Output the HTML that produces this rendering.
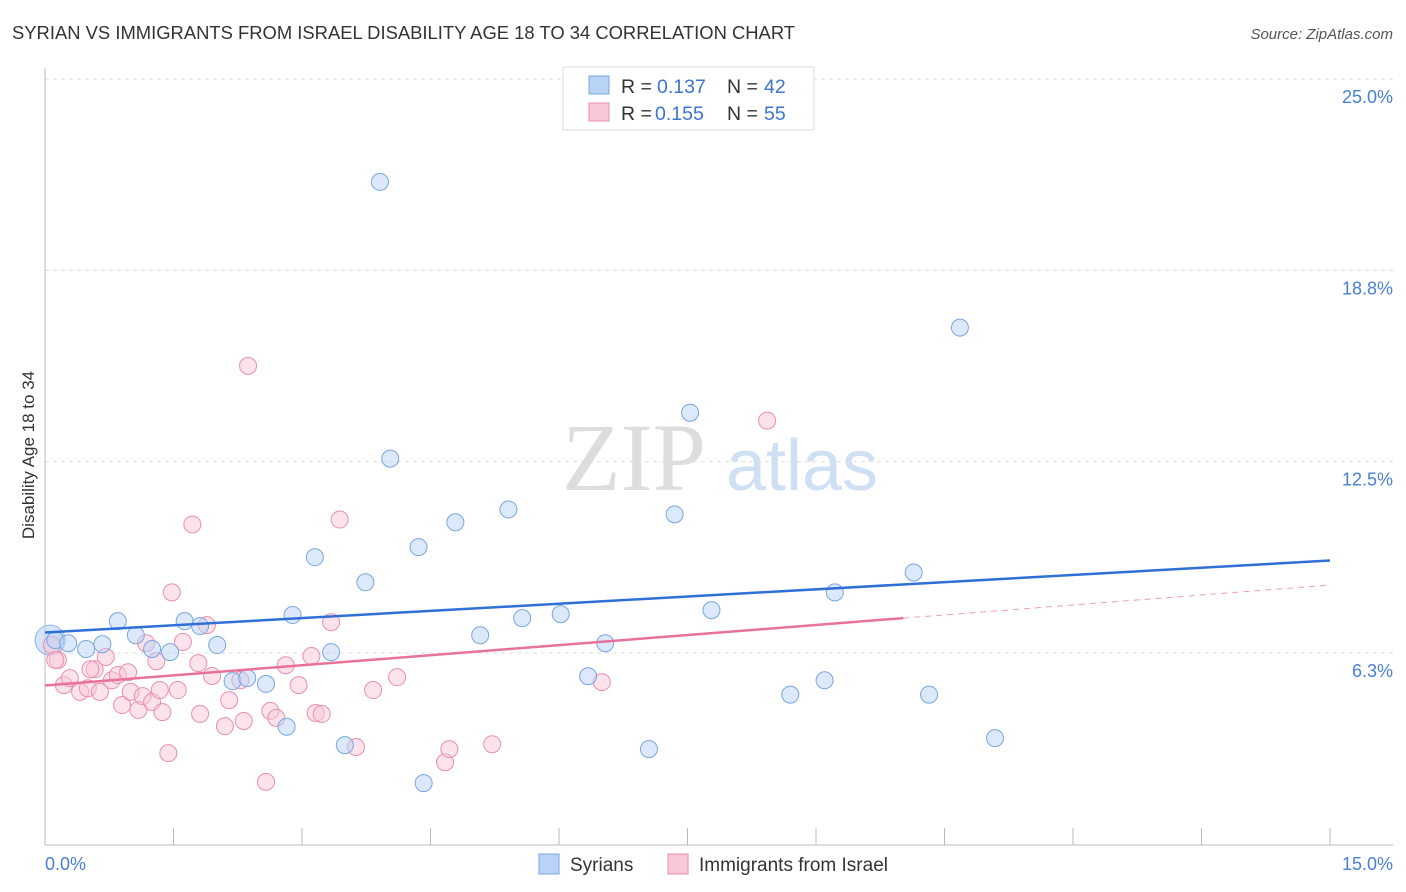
<!DOCTYPE html>
<html><head><meta charset="utf-8"><style>
body{margin:0;background:#fff;font-family:"Liberation Sans",sans-serif;}
svg{display:block}
</style></head><body>
<svg id="chart" width="1406" height="892">
<text x="12" y="39" font-size="18.4" fill="#333" textLength="783">SYRIAN VS IMMIGRANTS FROM ISRAEL DISABILITY AGE 18 TO 34 CORRELATION CHART</text>
<text x="1393" y="39" font-size="15" fill="#555" font-style="italic" text-anchor="end">Source: ZipAtlas.com</text>
<text x="634" y="490" font-size="96" fill="#ddd" font-family="Liberation Serif" text-anchor="middle">ZIP</text>
<text x="802" y="490" font-size="72" fill="#cfe0f5" text-anchor="middle">atlas</text>
<g id="grid"></g><g id="marks"></g>
<text transform="translate(34,455) rotate(-90)" font-size="17" fill="#333" text-anchor="middle">Disability Age 18 to 34</text>
<text x="45" y="870" font-size="18" fill="#4a7fd6">0.0%</text>
<text x="1393" y="870" font-size="18" fill="#4a7fd6" text-anchor="end">15.0%</text>
<g>
<rect x="563" y="67" width="251" height="63" fill="#fff" stroke="#ddd"/>
<rect x="589" y="76" width="20" height="18" fill="#b8d3f5" stroke="#7aa6e0"/>
<text x="621" y="93" font-size="19.5" fill="#333">R =</text>
<text x="657" y="93" font-size="19.5" fill="#3d74d1">0.137</text>
<text x="727" y="93" font-size="19.5" fill="#333">N =</text>
<text x="764" y="93" font-size="19.5" fill="#3d74d1">42</text>
<rect x="589" y="103" width="20" height="18" fill="#f9c8d7" stroke="#ea8fae"/>
<text x="621" y="120" font-size="19.5" fill="#333">R =</text>
<text x="655" y="120" font-size="19.5" fill="#3d74d1">0.155</text>
<text x="727" y="120" font-size="19.5" fill="#333">N =</text>
<text x="764" y="120" font-size="19.5" fill="#3d74d1">55</text>
</g>
<g><rect x="539" y="854" width="20" height="20" fill="#b8d3f5" stroke="#7aa6e0"/><text x="570" y="871" font-size="19" fill="#333">Syrians</text></g>
<g><rect x="668" y="854" width="20" height="20" fill="#f9c8d7" stroke="#ea8fae"/><text x="699" y="871" font-size="19" fill="#333">Immigrants from Israel</text></g>
</svg>
<script>
const yTicks=[6.25,12.5,18.75,25.0];
const yTickLabels=["6.3%","12.5%","18.8%","25.0%"];
const xTicks=[0,1.5,3,4.5,6,7.5,9,10.5,12,13.5,15];
const syrX=[0.12,0.27,0.48,0.67,0.85,1.06,1.25,1.46,1.63,1.81,2.01,2.19,2.36,2.58,2.82,2.89,3.15,3.34,3.5,3.74,3.91,4.03,4.36,4.42,4.79,5.08,5.41,5.57,6.02,6.34,6.54,7.05,7.35,7.53,7.78,8.7,9.1,9.22,10.14,10.32,10.68,11.09];
const syrY=[6.67,6.57,6.38,6.54,7.29,6.83,6.38,6.28,7.29,7.13,6.51,5.33,5.43,5.24,3.84,7.49,9.38,6.28,3.24,8.56,21.64,12.6,9.71,2.0,10.52,6.83,10.94,7.39,7.52,5.49,6.57,3.11,10.78,14.1,7.65,4.89,5.36,8.23,8.88,4.89,16.88,3.47];
const isrX=[0.08,0.15,0.22,0.29,0.41,0.5,0.58,0.64,0.71,0.78,0.85,0.9,0.97,1.0,1.09,1.14,1.18,1.25,1.3,1.37,1.44,1.48,1.55,1.61,1.72,1.79,1.81,1.89,1.95,2.1,2.15,2.32,2.37,2.58,2.63,2.7,2.81,2.96,3.11,3.16,3.23,3.34,3.44,3.63,3.83,4.11,4.67,4.72,5.22,6.5,8.43,0.12,0.53,1.34,2.28];
const isrY=[6.51,6.02,5.2,5.43,4.98,5.1,5.72,4.98,6.12,5.36,5.53,4.55,5.62,4.98,4.39,4.84,6.57,4.65,5.98,4.32,2.98,8.23,5.04,6.61,10.45,5.92,4.26,7.16,5.5,3.86,4.71,4.03,15.63,2.04,4.36,4.13,5.85,5.2,6.15,4.29,4.26,7.26,10.61,3.18,5.04,5.46,2.68,3.11,3.27,5.3,13.84,6.02,5.72,5.04,5.36];
const syrLine=[6.92,9.27];
const isrLine=[5.19,7.39,8.47];
const X0=45,X1=1330,Y0=653,pxPer=30.61;
const xs=v=>X0+v/15*(X1-X0), ys=v=>Y0-(v-6.25)*pxPer;
const NS="http://www.w3.org/2000/svg";
function mk(t,a,p){const e=document.createElementNS(NS,t);for(const k in a)e.setAttribute(k,a[k]);p.appendChild(e);return e;}
const grid=document.getElementById('grid'),marks=document.getElementById('marks');
yTicks.forEach((v,i)=>{
 const l=mk('line',{x1:45,x2:1393,y1:ys(v),y2:ys(v),stroke:'#ddd','stroke-dasharray':'4,4'},grid);
 
 
 const t=mk('text',{x:1393,y:ys(v)+24,'font-size':18,fill:'#4a7fd6','text-anchor':'end'},grid);t.textContent=yTickLabels[i];
 
 
});
const ax=mk('line',{x1:45,x2:1393,y1:845,y2:845,stroke:'#bbb'},grid);


const ay=mk('line',{x1:45,x2:45,y1:68,y2:845,stroke:'#bbb'},grid);


xTicks.forEach(v=>{const t=mk('line',{x1:xs(v),x2:xs(v),y1:828,y2:845,stroke:'#bbb'},grid);
 
 });
const big=mk('circle',{cx:xs(0.06),cy:ys(6.67),r:15,fill:'rgba(184,211,245,0.6)',stroke:'#8fb3e6'},marks);


isrX.forEach((x,i)=>{const c=mk('circle',{cx:xs(x),cy:ys(isrY[i]),r:8.5,fill:'rgba(249,200,215,0.5)',stroke:'#ea8fae','stroke-width':1},marks);
 
 });
syrX.forEach((x,i)=>{const c=mk('circle',{cx:xs(x),cy:ys(syrY[i]),r:8.5,fill:'rgba(184,211,245,0.5)',stroke:'#7aa6e0','stroke-width':1},marks);
 
 });
const bl=mk('line',{x1:xs(0),y1:ys(syrLine[0]),x2:xs(15),y2:ys(syrLine[1]),stroke:'#2f6fd6','stroke-width':2.5},marks);


const pl=mk('line',{x1:xs(0),y1:ys(isrLine[0]),x2:xs(10.02),y2:ys(isrLine[1]),stroke:'#e8729a','stroke-width':2.5},marks);


const pd=mk('line',{x1:xs(10.02),y1:ys(isrLine[1]),x2:xs(15),y2:ys(isrLine[2]),stroke:'#e8a0b8','stroke-width':1,'stroke-dasharray':'6,5'},marks);


</script>
</body></html>
